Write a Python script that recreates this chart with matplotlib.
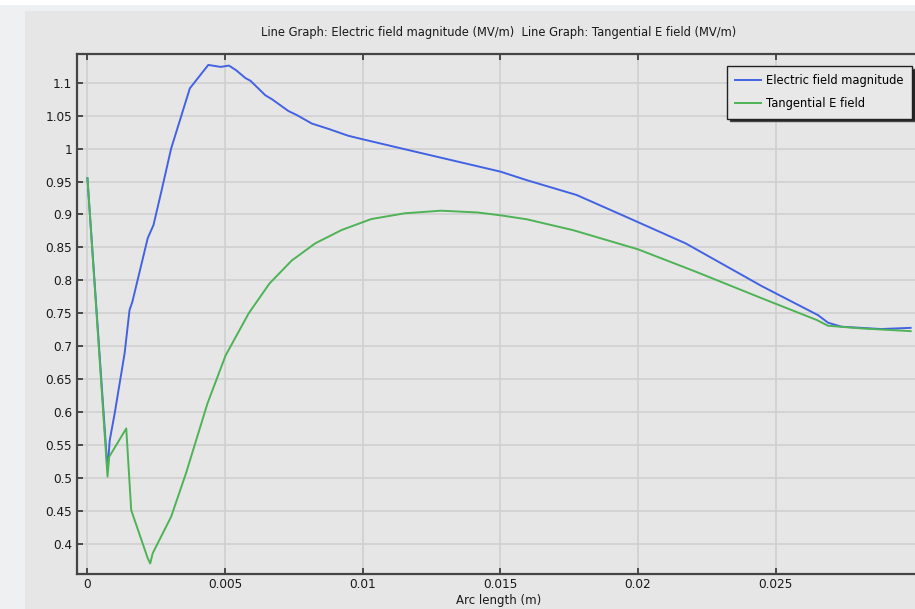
import matplotlib.pyplot as plt
from matplotlib.patches import Rectangle

# arc length (m) and field values (MV/m)
x_mag = [0.0, 0.00073, 0.00081, 0.00099, 0.00135, 0.00153, 0.00163, 0.00219, 0.0024,
         0.00268, 0.00304, 0.00372, 0.00439, 0.00484, 0.00514, 0.0054, 0.00574, 0.00592,
         0.00646, 0.0067, 0.0073, 0.0076, 0.00815, 0.00875, 0.00947, 0.01001, 0.01163,
         0.01296, 0.015, 0.01596, 0.01777, 0.01969, 0.02173, 0.0245, 0.02654, 0.0269,
         0.02739, 0.02883, 0.0299]
e_mag = [0.955, 0.512, 0.557, 0.598, 0.689, 0.755, 0.767, 0.864, 0.884,
         0.934, 1.0, 1.0915, 1.127, 1.124, 1.126, 1.119, 1.107, 1.103,
         1.081, 1.075, 1.057, 1.051, 1.038, 1.03, 1.0195, 1.014, 0.998,
         0.985, 0.965, 0.952, 0.9295, 0.894, 0.856, 0.791, 0.747, 0.7356,
         0.7295, 0.726, 0.7278]

x_tan = [0.0, 0.00073, 0.00079, 0.00141, 0.00159, 0.00219, 0.00228, 0.00237, 0.00304,
         0.00358, 0.00436, 0.00502, 0.00586, 0.00661, 0.00742, 0.00827, 0.00923, 0.01031,
         0.01152, 0.01284, 0.01416, 0.015, 0.01596, 0.01765, 0.02, 0.0221, 0.0245,
         0.02649, 0.0269, 0.0281, 0.0299]
e_tan = [0.955, 0.502, 0.532, 0.575, 0.451, 0.378, 0.37, 0.3855, 0.441,
         0.507, 0.613, 0.686, 0.75, 0.795, 0.83, 0.856, 0.8763, 0.893,
         0.9017, 0.9057, 0.903, 0.8987, 0.8926, 0.876, 0.847, 0.813, 0.7726,
         0.7397, 0.731, 0.727, 0.7228]

x_ticks = [0, 0.005, 0.01, 0.015, 0.02, 0.025]
x_labels = ['0', '0.005', '0.01', '0.015', '0.02', '0.025']
y_ticks = [0.4, 0.45, 0.5, 0.55, 0.6, 0.65, 0.7, 0.75, 0.8, 0.85, 0.9, 0.95, 1.0, 1.05, 1.1]
y_labels = ['0.4', '0.45', '0.5', '0.55', '0.6', '0.65', '0.7', '0.75', '0.8', '0.85',
            '0.9', '0.95', '1', '1.05', '1.1']

W, H = 915, 609
fig = plt.figure(figsize=(W / 100, H / 100), dpi=100)
fig.patch.set_facecolor('#eff0f2')
# white toolbar strip at top, grey panel behind the plot
fig.add_artist(Rectangle((0, 1 - 5 / H), 1, 5 / H, transform=fig.transFigure,
                         facecolor='white', edgecolor='none', zorder=0))
fig.add_artist(Rectangle((25 / W, 0), 1, 1 - 11 / H, transform=fig.transFigure,
                         facecolor='#e6e6e6', edgecolor='none', zorder=0))

left, right, top, bottom = 76.5, 920, 54, 573.7
ax = fig.add_axes([left / W, 1 - bottom / H, (right - left) / W, (bottom - top) / H])
ax.set_facecolor('#e6e6e6')

ax.plot(x_mag, e_mag, color='#4262e3', lw=1.4, label='Electric field magnitude')
ax.plot(x_tan, e_tan, color='#4db356', lw=1.4, label='Tangential E field')

ax.set_xlim(-0.000397, 0.03024)
ax.set_ylim(0.3545, 1.1436)
ax.set_xticks(x_ticks)
ax.set_xticklabels(x_labels)
ax.set_yticks(y_ticks)
ax.set_yticklabels(y_labels)
ax.grid(True, color='#d0d0d0', lw=1.2)
ax.set_axisbelow(True)
ax.tick_params(direction='in', length=4, width=1.2, color='#333333', labelsize=8.7,
               labelcolor='#1a1a1a', top=True, right=False, pad=3)

for side in ['left', 'bottom', 'top']:
    ax.spines[side].set_color('#444444')
    ax.spines[side].set_linewidth(1.6)
ax.spines['right'].set_visible(False)

ax.set_title('Line Graph: Electric field magnitude (MV/m)  Line Graph: Tangential E field (MV/m)',
             fontsize=8.3, color='#1a1a1a', pad=13)
ax.set_xlabel('Arc length (m)', fontsize=8.5, color='#1a1a1a', labelpad=2.5)

leg = ax.legend(loc='upper right',
                bbox_to_anchor=((912 - left) / (right - left), (bottom - 66) / (bottom - top)),
                borderaxespad=0, fontsize=8.3, frameon=True, fancybox=False,
                shadow={'facecolor': '#222222', 'alpha': 1},
                borderpad=0.7, handlelength=2.2, handletextpad=0.5, labelspacing=0.9)
leg.get_frame().set_facecolor('#e8e8e8')
leg.get_frame().set_edgecolor('#222222')
leg.get_frame().set_linewidth(1.0)
leg.get_frame().set_alpha(1)

fig.savefig('out.png', dpi=100, facecolor=fig.get_facecolor())
